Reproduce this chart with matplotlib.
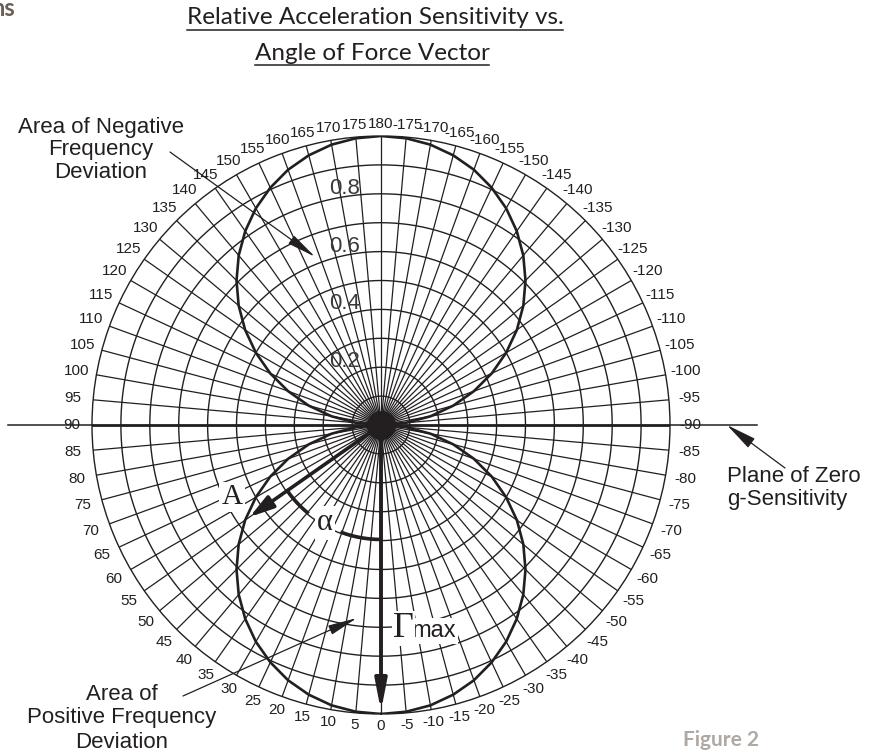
import numpy as np
import matplotlib.pyplot as plt
from matplotlib.lines import Line2D

W, H = 879, 753
INK = '#231f20'
SANS = ['Liberation Sans', 'DejaVu Sans']
SERIF = ['Liberation Serif', 'DejaVu Serif']

# relative sensitivity read along one quadrant, angle measured from the Gmax direction
quad_angle = [0, 5, 10, 15, 20, 25, 30, 35, 40, 45, 50, 55, 60, 65, 70, 75, 80, 85, 90]
quad_sens = [1.000, 0.996, 0.985, 0.966, 0.940, 0.906, 0.866, 0.819, 0.766, 0.707,
             0.643, 0.574, 0.500, 0.423, 0.342, 0.259, 0.174, 0.087, 0.000]

rings = [0.1, 0.2, 0.3, 0.4, 0.5, 0.6, 0.7, 0.8, 0.9]
ring_labels = [0.2, 0.4, 0.6, 0.8]
spokes = list(range(0, 360, 5))
angle_labels = list(range(-175, 185, 5))

force_angle = 55      # vector A
force_sens = 0.555
alpha_r = 0.395

# full lobe (two lobes, mirrored quadrants)
q = np.array(quad_sens)
lobe_theta = np.radians(np.arange(0, 365, 5))
lobe_r = np.concatenate([q, q[::-1][1:], q[1:], q[::-1][1:]])

cx, cy, R = 381, 425, 289


def fx(x):
    return x / W


def fy(y):
    return 1 - y / H


fig = plt.figure(figsize=(W / 100, H / 100), dpi=100)
ax = fig.add_axes([fx(cx - R), (H - cy - R) / H, 2 * R / W, 2 * R / H], projection='polar')
ax.set_theta_zero_location('S')
ax.set_theta_direction(-1)
ax.set_ylim(0, 1)
ax.set_xticks([])
ax.set_yticks([])
ax.grid(False)
ax.spines['polar'].set(lw=1.0, color=INK)

# grid
tt = np.linspace(0, 2 * np.pi, 721)
for r in rings:
    ax.plot(tt, np.full_like(tt, r), lw=1.0, color=INK, zorder=1)
for a in spokes:
    ax.plot([np.radians(a)] * 2, [0, 1], lw=0.9, color=INK, zorder=1)
ax.fill_between(tt, 0, 0.05, color=INK, lw=0, zorder=2)

# plane of zero sensitivity
for a, ext in [(90, 1.29), (-90, 1.30)]:
    ax.plot([np.radians(a)] * 2, [0, 1], lw=2.0, color=INK, zorder=2)
    ax.plot([np.radians(a)] * 2, [1, ext], lw=1.1, color=INK, zorder=5, clip_on=False)

# sensitivity lobes
ax.plot(lobe_theta, lobe_r, lw=1.9, color=INK, zorder=3)

# ring labels
for v in ring_labels:
    ax.annotate(f'{v:.1f}', xy=(np.pi, v), xytext=(-26, 0), textcoords='offset points',
                ha='center', va='baseline', fontsize=16, family=SANS, color='#3a3a3a')

# angle labels
for v in angle_labels:
    th = np.radians(v)
    rl = 1.04 + 0.03 * abs(np.sin(th))
    ax.text(th, rl, str(v), ha='center', va='center', fontsize=11, family=SANS,
            color=INK, clip_on=False)

# force vector A and Gmax
ax.annotate('', xy=(np.radians(force_angle), force_sens), xytext=(0, 0),
            arrowprops=dict(arrowstyle='-|>,head_length=1.45,head_width=0.42', lw=2.6,
                            color=INK, shrinkA=0, shrinkB=0), zorder=6)
ax.annotate('', xy=(0, 0.99), xytext=(0, 0),
            arrowprops=dict(arrowstyle='-|>,head_length=1.8,head_width=0.35', lw=2.8,
                            color=INK, shrinkA=0, shrinkB=0), zorder=6)
for a0, a1 in [(0, 20), (40, 55)]:
    arc = np.radians(np.linspace(a0, a1, 30))
    ax.plot(arc, np.full_like(arc, alpha_r), lw=2.2, color=INK, zorder=6)

box = dict(facecolor='white', edgecolor='none', pad=1.5)
fig.text(fx(232), fy(497), 'A', ha='center', va='center', fontsize=21, family=SERIF,
         color=INK, bbox=box)
fig.text(fx(325), fy(523), 'α', ha='center', va='center', fontsize=22, family=SERIF,
         color=INK, bbox=box)
fig.text(fx(411), fy(637), 'max', ha='left', va='baseline', fontsize=17, family=SANS,
         color=INK, bbox=box)
fig.text(fx(393), fy(637), 'Γ', ha='left', va='baseline', fontsize=26, family=SERIF,
         color=INK, bbox=dict(box, pad=0.5))

# callouts
for i, s in enumerate(['Area of Negative', 'Frequency', 'Deviation']):
    fig.text(fx(101), fy(127 + 23 * i), s, ha='center', va='center', fontsize=16,
             family=SANS, color=INK)
for i, s in enumerate(['Area of', 'Positive Frequency', 'Deviation']):
    fig.text(fx(122), fy(694 + 24 * i), s, ha='center', va='center', fontsize=16,
             family=SANS, color=INK)
for i, s in enumerate(['Plane of Zero', 'g-Sensitivity']):
    fig.text(fx(727), fy(477 + 23 * i), s, ha='left', va='center', fontsize=16,
             family=SANS, color=INK)

thin = dict(arrowstyle='-|>,head_length=1.8,head_width=0.3', lw=0.9, color=INK,
            shrinkA=0, shrinkB=0)
ax.annotate('', xy=(np.radians(158.6), 0.625), xytext=(fx(170), fy(152)),
            textcoords='figure fraction', arrowprops=thin, annotation_clip=False, zorder=6)
ax.annotate('', xy=(np.radians(7.1), 0.673), xytext=(fx(183), fy(696)),
            textcoords='figure fraction', arrowprops=thin, annotation_clip=False, zorder=6)
ax.annotate('', xy=(np.radians(-90), 1.197), xytext=(fx(785), fy(468)),
            textcoords='figure fraction',
            arrowprops=dict(thin, arrowstyle='-|>,head_length=1.9,head_width=0.35'),
            annotation_clip=False, zorder=6)

# title (underlined)
t1 = fig.text(fx(375), fy(18), 'Relative Acceleration Sensitivity vs.', ha='center',
              va='center', fontsize=17.5, family=['Lato', 'DejaVu Sans'], color=INK)
t2 = fig.text(fx(372), fy(53), 'Angle of Force Vector', ha='center', va='center',
              fontsize=17.5, family=['Lato', 'DejaVu Sans'], color=INK)

fig.text(fx(-9), fy(9), 'ns', ha='left', va='center', fontsize=17, fontweight='bold',
         family=['Lato', 'DejaVu Sans'], color='#6b6059')
fig.text(fx(721), fy(740), 'Figure 2', ha='center', va='center', fontsize=15,
         fontweight='bold', family=['Lato', 'DejaVu Sans'], color='#b0a9a3')

fig.canvas.draw()
rend = fig.canvas.get_renderer()
for t in (t1, t2):
    bb = t.get_window_extent(rend)
    fig.add_artist(Line2D([bb.x0 / W, bb.x1 / W], [(bb.y0 - 1) / H] * 2, lw=1.1, color=INK))

fig.savefig('out.png', dpi=100)
